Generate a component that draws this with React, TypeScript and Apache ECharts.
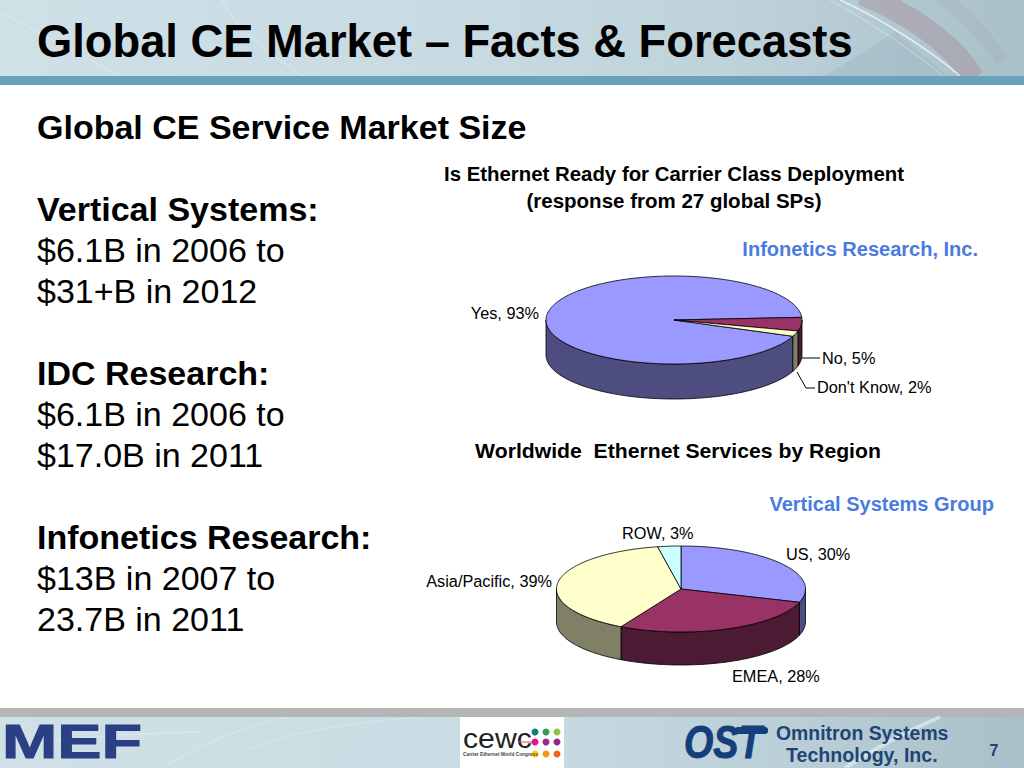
import React, { useEffect, useRef } from "react";
import * as echarts from "echarts";

const pageTitle = "Global CE Market – Facts & Forecasts";
const bodyLines: [string, boolean, number][] = [
  ["Global CE Service Market Size", true, 127],
  ["Vertical Systems:", true, 209],
  ["$6.1B in 2006 to", false, 250],
  ["$31+B in 2012", false, 291],
  ["IDC Research:", true, 373],
  ["$6.1B in 2006 to", false, 414],
  ["$17.0B in 2011", false, 455],
  ["Infonetics Research:", true, 537],
  ["$13B in 2007 to", false, 578],
  ["23.7B in 2011", false, 619],
];

const readyCategories = ["Yes", "No", "Don't Know"];
const readyValues = [93, 5, 2];
const regionCategories = ["US", "EMEA", "Asia/Pacific", "ROW"];
const regionValues = [30, 28, 39, 3];

const topColours: Record<string, string> = {
  Yes: "#9999ff", No: "#993366", "Don't Know": "#ffffcc",
  US: "#9999ff", EMEA: "#993366", "Asia/Pacific": "#ffffcc", ROW: "#ccffff",
};
const sideColours: Record<string, string> = {
  Yes: "#4d4d80", No: "#4d1a33", "Don't Know": "#808066",
  US: "#4d4d80", EMEA: "#4d1a33", "Asia/Pacific": "#808066", ROW: "#668080",
};

const FONT = '"Liberation Sans", Arial, sans-serif';

type Label = { x: number; y: number; align: "left" | "right" | "center"; leader?: number[][] };
type PieLayout = { cx: number; cy: number; rx: number; ry: number; depth: number; start: number; labels: Label[] };

const readyLayout: PieLayout = {
  cx: 674, cy: 320, rx: 128, ry: 44, depth: 35, start: 21.7,
  labels: [
    { x: 539, y: 313, align: "right" },
    { x: 822, y: 358, align: "left", leader: [[802, 358], [820, 358]] },
    { x: 817, y: 387, align: "left", leader: [[797, 372], [806, 388], [815, 388]] },
  ],
};
const regionLayout: PieLayout = {
  cx: 681, cy: 589, rx: 124.5, ry: 43, depth: 33, start: -90,
  labels: [
    { x: 786, y: 554, align: "left" },
    { x: 732, y: 676, align: "left" },
    { x: 552, y: 581, align: "right" },
    { x: 622, y: 533, align: "left" },
  ],
};

function ellipsePoints(l: PieLayout, a: number, b: number, dy: number) {
  const pts: number[][] = [];
  const n = Math.max(2, Math.ceil(Math.abs(b - a) / 1.5));
  for (let i = 0; i <= n; i++) {
    const t = ((a + ((b - a) * i) / n) * Math.PI) / 180;
    pts.push([l.cx + l.rx * Math.cos(t), l.cy + l.ry * Math.sin(t) + dy]);
  }
  return pts;
}

function pieSeries(categories: string[], values: number[], l: PieLayout) {
  const total = values.reduce((s, v) => s + v, 0);
  const stroke = { stroke: "#000", lineWidth: 0.8 };
  return {
    type: "custom",
    coordinateSystem: "none",
    silent: true,
    z: 5,
    data: values.map((v, i) => ({ name: categories[i], value: v })),
    renderItem: (params: any, api: any) => {
      const i = params.dataIndex;
      const before = values.slice(0, i).reduce((s, v) => s + v, 0);
      const a = l.start + (before / total) * 360;
      const b = a + (api.value(0) / total) * 360;
      const name = categories[i];
      const children: any[] = [];
      // visible outer wall: the parts of the slice within the front half of the ellipse
      for (const k of [-360, 0, 360]) {
        const from = Math.max(a + k, 0);
        const to = Math.min(b + k, 180);
        if (to > from) {
          const upper = ellipsePoints(l, from, to, 0);
          const lower = ellipsePoints(l, to, from, l.depth);
          children.push({
            type: "polygon",
            shape: { points: upper.concat(lower) },
            style: { fill: sideColours[name], ...stroke },
          });
        }
      }
      children.push({
        type: "polygon",
        shape: { points: [[l.cx, l.cy], ...ellipsePoints(l, a, b, 0)] },
        style: { fill: topColours[name], ...stroke },
      });
      const lab = l.labels[i];
      if (lab.leader) {
        children.push({
          type: "polyline",
          shape: { points: lab.leader },
          style: { fill: "none", stroke: "#000", lineWidth: 1 },
        });
      }
      children.push({
        type: "text",
        x: lab.x,
        y: lab.y,
        style: {
          text: `${name}, ${api.value(0)}%`,
          fill: "#000",
          font: `16.3px ${FONT}`,
          textAlign: lab.align,
          verticalAlign: "middle",
          textVerticalAlign: "middle",
        },
      });
      return { type: "group", children };
    },
  };
}

function txt(text: string, x: number, y: number, size: number, bold: boolean, fill: string, align = "left", extra: any = {}) {
  const { fontStyle = "", styleExtra = {}, ...rest } = extra;
  return {
    type: "text",
    x,
    y,
    z: 4,
    silent: true,
    style: {
      text,
      fill,
      font: `${fontStyle} ${bold ? "bold " : ""}${size}px ${FONT}`,
      textAlign: align,
      verticalAlign: "middle",
      textVerticalAlign: "middle",
      ...styleExtra,
    },
    ...rest,
  };
}

function rect(x: number, y: number, width: number, height: number, fill: any, z = 1) {
  return { type: "rect", z, silent: true, shape: { x, y, width, height }, style: { fill } };
}

function curve(x1: number, y1: number, cx1: number, cy1: number, cx2: number, cy2: number, x2: number, y2: number, stroke: string, lineWidth: number, z = 2) {
  return {
    type: "bezierCurve",
    z,
    silent: true,
    shape: { x1, y1, x2, y2, cpx1: cx1, cpy1: cy1, cpx2: cx2, cpy2: cy2 },
    style: { stroke, lineWidth, fill: "none" },
  };
}

function backdrop() {
  const gradient = {
    type: "linear", x: 0, y: 0, x2: 1, y2: 0,
    colorStops: [
      { offset: 0, color: "#cfe0e7" },
      { offset: 0.45, color: "#c8dbe2" },
      { offset: 0.72, color: "#bed2da" },
      { offset: 1, color: "#a9c0c9" },
    ],
  };
  const footGradient = {
    type: "linear", x: 0, y: 0, x2: 1, y2: 0,
    colorStops: [
      { offset: 0, color: "#cfe1e6" },
      { offset: 0.5, color: "#c9dce3" },
      { offset: 0.78, color: "#b9ced6" },
      { offset: 1, color: "#a9c0c8" },
    ],
  };
  return [
    rect(0, 0, 1024, 76, gradient),
    curve(3, 13, 40, 35, 85, 55, 118, 76, "rgba(255,255,255,0.35)", 1),
    curve(222, 0, 235, 27, 265, 52, 304, 76, "rgba(255,255,255,0.35)", 1),
    { type: "polygon", z: 2, silent: true, shape: { points: [[825, 76], [895, 32], [948, 76]] }, style: { fill: "rgba(150,172,184,0.3)" } },
    curve(862, -6, 910, 14, 955, 45, 973, 78, "rgba(165,135,148,0.42)", 22),
    curve(940, -4, 965, 14, 985, 35, 1002, 60, "rgba(165,150,160,0.16)", 14),
    curve(840, 0, 880, 18, 930, 50, 960, 76, "rgba(240,248,250,0.8)", 1.5),
    curve(830, 0, 870, 22, 915, 52, 943, 76, "rgba(240,248,250,0.45)", 1),
    rect(0, 76, 1024, 9, "#69a2bb", 3),
    rect(0, 708, 1024, 9, "#b5b5b5"),
    rect(0, 717, 1024, 51, footGradient),
    curve(10, 748, 60, 738, 120, 734, 200, 732, "rgba(255,255,255,0.3)", 1),
    curve(163, 768, 190, 750, 230, 730, 287, 717, "rgba(255,255,255,0.3)", 1),
    curve(222, 768, 240, 745, 300, 727, 420, 717, "rgba(255,255,255,0.25)", 1),
    curve(845, 768, 880, 745, 910, 730, 940, 717, "rgba(235,245,248,0.6)", 4),
    rect(460, 717, 104, 51, "#ffffff", 2),
  ];
}

function logos() {
  const dotColours = ["#0f7f6f", "#2e9e4f", "#8cc63f", "#e6138c", "#a6238e", "#92278f", "#ffcc00", "#f7941d", "#f26522"];
  const dotY = [732, 742, 754];
  const dots = dotColours.map((fill, i) => ({
    type: "circle",
    z: 3,
    silent: true,
    shape: { cx: 535 + (i % 3) * 11, cy: dotY[Math.floor(i / 3)], r: 3.5 },
    style: { fill },
  }));
  return [
    txt("MEF", 2, 740.5, 49, true, "#2b3f85", "left", {
      scaleX: 1.355,
      styleExtra: { stroke: "#2b3f85", lineWidth: 1 },
    }),
    txt("cewc", 463, 739, 27, false, "#222222", "left", { scaleX: 1.12 }),
    txt("Carrier Ethernet World Congress", 463, 754, 4.8, true, "#444444"),
    { type: "rect", z: 5, silent: true, shape: { x: 518, y: 741.5, width: 14, height: 1 }, style: { fill: "#e2574c" } },
    ...dots,
    txt("OST", 684, 742, 46, true, "#143e7c", "left", {
      fontStyle: "italic", scaleX: 0.82,
      styleExtra: { stroke: "#143e7c", lineWidth: 1 },
    }),
    { type: "rect", z: 3, silent: true, shape: { x: 735, y: 727, width: 33, height: 7, r: 3 }, style: { fill: "#143e7c" } },
    txt("Omnitron Systems", 776, 733, 19.4, true, "#1f4476"),
    txt("Technology, Inc.", 786, 755, 19.6, true, "#1f4476"),
    txt("7", 994, 750, 16, true, "#1f4476", "center"),
  ];
}

export default function App() {
  const ref = useRef<HTMLDivElement>(null);
  useEffect(() => {
    const chart = echarts.init(ref.current!, undefined, { renderer: "svg" });
    chart.setOption({
      animation: false,
      backgroundColor: "#ffffff",
      series: [pieSeries(readyCategories, readyValues, readyLayout), pieSeries(regionCategories, regionValues, regionLayout)],
      graphic: {
        elements: [
          ...backdrop(),
          ...logos(),
          txt(pageTitle, 37, 41, 45.3, true, "#000"),
          ...bodyLines.map(([t, bold, y]) => txt(t, 37, y, 34, bold, "#000")),
          txt("Is Ethernet Ready for Carrier Class Deployment", 674, 174, 20.4, true, "#000", "center"),
          txt("(response from 27 global SPs)", 674, 200, 20.5, true, "#000", "center"),
          txt("Infonetics Research, Inc.", 978, 249, 20, true, "#4a7be0", "right"),
          txt("Worldwide  Ethernet Services by Region", 678, 451, 20, true, "#000", "center", { scaleX: 1.06 }),
          txt("Vertical Systems Group", 994, 504, 20, true, "#4a7be0", "right"),
        ],
      },
    });
    return () => chart.dispose();
  }, []);
  return <div ref={ref} style={{ position: "absolute", left: 0, top: 0, width: 1024, height: 768 }} />;
}
